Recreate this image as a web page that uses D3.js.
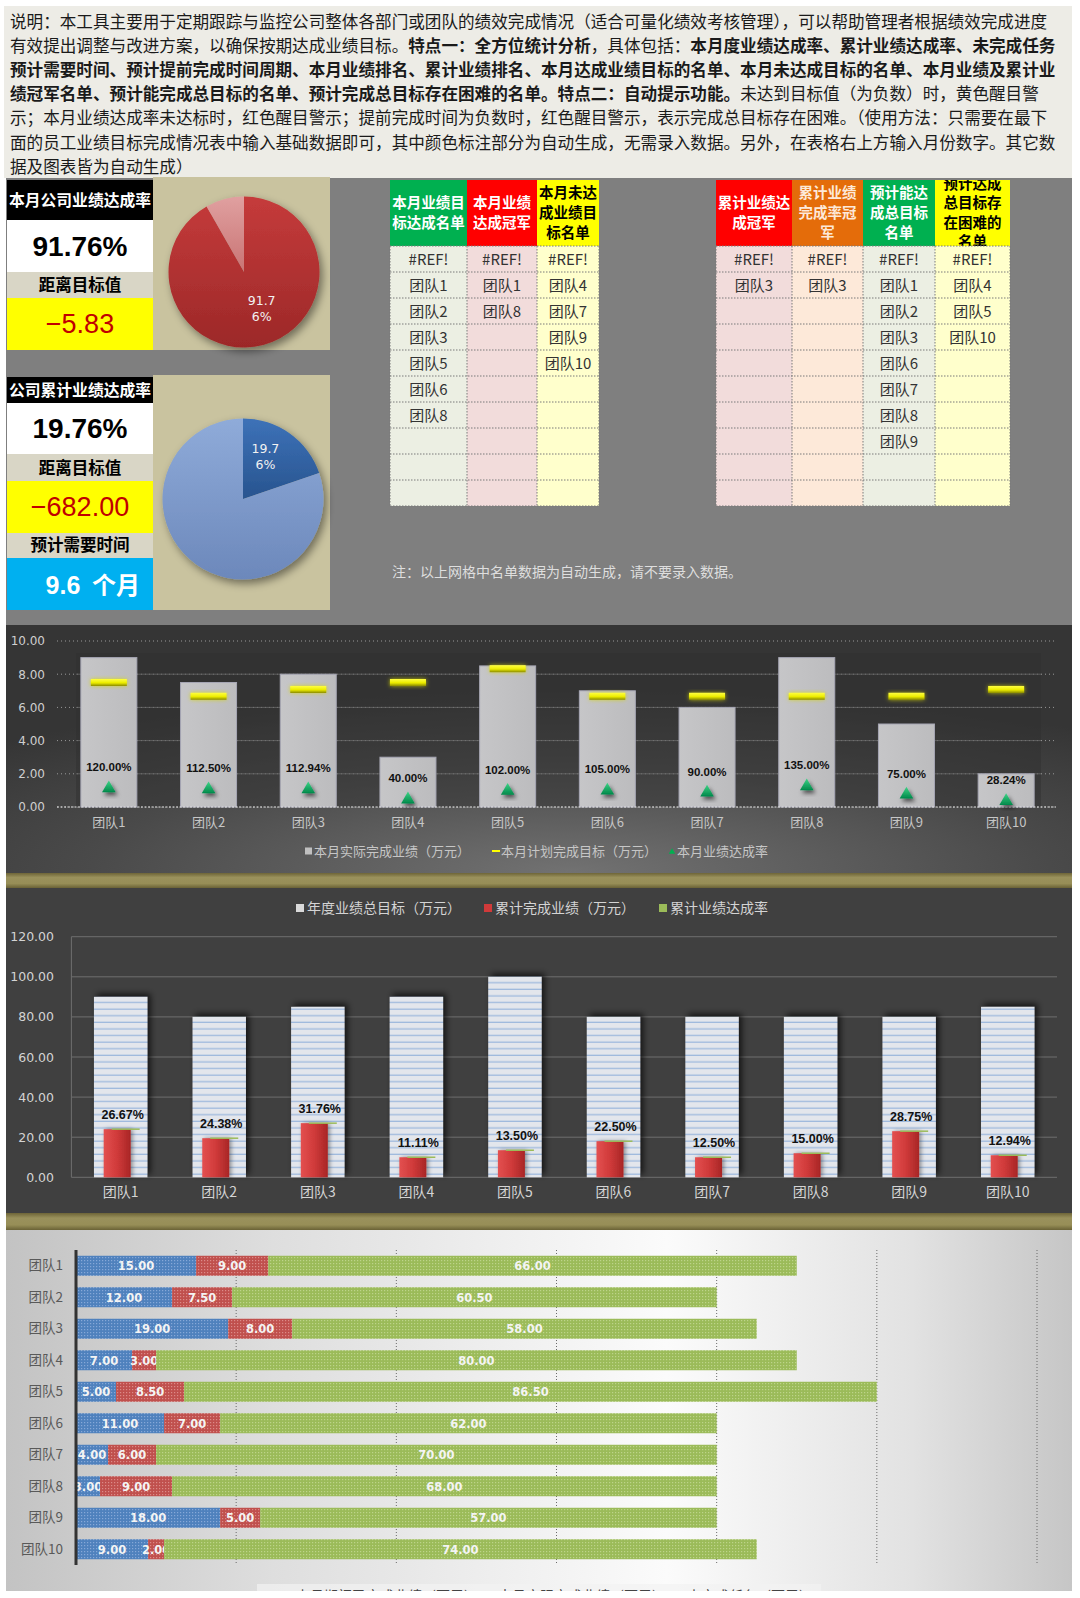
<!DOCTYPE html>
<html><head><meta charset="utf-8">
<script src="https://cdn.jsdelivr.net/npm/d3@7/dist/d3.min.js"></script>
<style>
html,body{margin:0;padding:0;background:#fff;overflow:hidden}
svg{display:block}
text{font-family:"Noto Sans CJK SC","Noto Sans",sans-serif}
</style></head><body>
<svg id="c" width="1080" height="1598" viewBox="0 0 1080 1598"></svg>
<script>
// ===== data =====
const teams = ["团队1","团队2","团队3","团队4","团队5","团队6","团队7","团队8","团队9","团队10"];
const monthActual = [9.0,7.5,8.0,3.0,8.5,7.0,6.0,9.0,5.0,2.0];
const monthTarget = [7.50,6.67,7.08,7.50,8.33,6.67,6.67,6.67,6.67,7.08];
const monthRate = [1.2000,1.1250,1.1294,0.4000,1.0200,1.0500,0.9000,1.3500,0.7500,0.2824];
const annualTarget = [90,80,85,90,100,80,80,80,80,85];
const cumDone = [24,19.5,27,10,13.5,18,10,12,23,11];
const cumRate = [0.2667,0.2438,0.3176,0.1111,0.1350,0.2250,0.1250,0.1500,0.2875,0.1294];
const prevDone = [15,12,19,7,5,11,4,3,18,9];
const thisMonthDone = [9,7.5,8,3,8.5,7,6,9,5,2];
const remaining = [66,60.5,58,80,86.5,62,70,68,57,74];
const ticks1 = [0,2,4,6,8,10];
const ticks2 = [0,20,40,60,80,100,120];
const ticks3 = [20,40,60,80,100,120];
const kpiMonthRate = 0.9176, kpiMonthGap = -5.83;
const kpiCumRate = 0.1976, kpiCumGap = -682.00, kpiMonthsNeeded = 9.6;
const legend1 = ["本月实际完成业绩（万元）","本月计划完成目标（万元）","本月业绩达成率"];
const legend2 = ["年度业绩总目标（万元）","累计完成业绩（万元）","累计业绩达成率"];
const legend3 = ["上月期初已完成业绩（万元）","本月实际完成业绩（万元）","未完成任务（万元）"];
const introLines = [
 [["说明：本工具主要用于定期跟踪与监控公司整体各部门或团队的绩效完成情况（适合可量化绩效考核管理），可以帮助管理者根据绩效完成进度",0]],
 [["有效提出调整与改进方案，以确保按期达成业绩目标。",0],["特点一：全方位统计分析",1],["，具体包括：",0],["本月度业绩达成率、累计业绩达成率、未完成任务",1]],
 [["预计需要时间、预计提前完成时间周期、本月业绩排名、累计业绩排名、本月达成业绩目标的名单、本月未达成目标的名单、本月业绩及累计业",1]],
 [["绩冠军名单、预计能完成总目标的名单、预计完成总目标存在困难的名单。特点二：自动提示功能。",1],["未达到目标值（为负数）时，黄色醒目警",0]],
 [["示；本月业绩达成率未达标时，红色醒目警示；提前完成时间为负数时，红色醒目警示，表示完成总目标存在困难。（使用方法：只需要在最下",0]],
 [["面的员工业绩目标完成情况表中输入基础数据即可，其中颜色标注部分为自动生成，无需录入数据。另外，在表格右上方输入月份数字。其它数",0]],
 [["据及图表皆为自动生成）",0]]
];
const t1Headers = [["本月业绩目","标达成名单"],["本月业绩","达成冠军"],["本月未达","成业绩目","标名单"]];
const t1Cols = [["#REF!","团队1","团队2","团队3","团队5","团队6","团队8"],["#REF!","团队1","团队8"],["#REF!","团队4","团队7","团队9","团队10"]];
const t2Headers = [["累计业绩达","成冠军"],["累计业绩","完成率冠","军"],["预计能达","成总目标","名单"],["预计达成","总目标存","在困难的","名单"]];
const t2Cols = [["#REF!","团队3"],["#REF!","团队3"],["#REF!","团队1","团队2","团队3","团队6","团队7","团队8","团队9"],["#REF!","团队4","团队5","团队10"]];
const noteText = "注：以上网格中名单数据为自动生成，请不要录入数据。";

// ===== setup =====
const svg = d3.select('#c');
const defs = svg.append('defs');
function lg(id, stops, x2, y2){ const g=defs.append('linearGradient').attr('id',id).attr('x1',0).attr('y1',0).attr('x2',x2===undefined?0:x2).attr('y2',y2===undefined?1:y2); stops.forEach(s=>g.append('stop').attr('offset',s[0]).attr('stop-color',s[1])); }
function shadow(id,dx,dy,sd,op,col){ const f=defs.append('filter').attr('id',id).attr('x','-50%').attr('y','-50%').attr('width','200%').attr('height','200%'); f.append('feDropShadow').attr('dx',dx).attr('dy',dy).attr('stdDeviation',sd).attr('flood-color',col||'#000').attr('flood-opacity',op); }
shadow('shPie',3,4,4,0.45);
shadow('shBar2',3,-3,3,0.7);
shadow('shTri',2,3,2,0.6);
shadow('glowY',0,0,2,0.8,'#d8d800');
shadow('shRed',2,0,2,0.4);
lg('gRed',[[0,'#c53b3b'],[1,'#9c2828']]);
lg('gRedL',[[0,'#e0a0a0'],[1,'#c97474']]);
lg('gBlue',[[0,'#3d72b8'],[1,'#28548f']]);
lg('gBlueL',[[0,'#8fabd9'],[1,'#6c88bb']]);
lg('gYel',[[0,'#ffff40'],[0.55,'#ecec00'],[1,'#8a8a00']]);
lg('gTri',[[0,'#3ed486'],[1,'#00884a']]);
lg('gRedBar',[[0,'#e35050'],[0.5,'#d03a3a'],[1,'#a82626']],1,0);
lg('gBar1',[[0,'#c6c6c8'],[1,'#bcbcbe']],1,0);
lg('gOlive',[[0,'#6e6538'],[0.3,'#9a915c'],[0.7,'#978e57'],[1,'#6a6236']]);
lg('gC3',[[0,'#c3c3c3'],[0.25,'#dedede'],[0.62,'#fbfbfb'],[0.85,'#e2e2e2'],[1,'#c6c6c6']],1,0);
const rg = defs.append('radialGradient').attr('id','gC1').attr('cx',0.53).attr('cy',1.0).attr('r',0.75).attr('gradientUnits','objectBoundingBox');
rg.append('stop').attr('offset',0).attr('stop-color','#727272');
rg.append('stop').attr('offset',0.6).attr('stop-color','#4a4a4a');
rg.append('stop').attr('offset',1).attr('stop-color','#353535');
const sp = defs.append('pattern').attr('id','stripe').attr('patternUnits','userSpaceOnUse').attr('width',10).attr('height',6.6);
sp.append('rect').attr('width',10).attr('height',6.6).attr('fill','#e3e6ec');
sp.append('rect').attr('y',5.3).attr('width',10).attr('height',1.3).attr('fill','#9fb9dd');
function dotPat(id, base, dot){ const p=defs.append('pattern').attr('id',id).attr('patternUnits','userSpaceOnUse').attr('width',3).attr('height',3);
 p.append('rect').attr('width',3).attr('height',3).attr('fill',base);
 p.append('rect').attr('width',1.2).attr('height',1.2).attr('fill',dot); }
dotPat('pBlue','#4f81bd','#86a8d8');
dotPat('pRed','#c0504d','#dc8a88');
dotPat('pGreen','#9bbb59','#bdd48a');
defs.append('clipPath').attr('id','clipC3').append('rect').attr('x',6).attr('y',1230).attr('width',1066).attr('height',361);
defs.append('clipPath').attr('id','clipH').append('rect').attr('x',935).attr('y',180).attr('width',75).attr('height',66);

// ===== intro =====
svg.append('rect').attr('x',4).attr('y',6).attr('width',1068).attr('height',172).attr('fill','#edece6');
const intro = svg.append('g');
introLines.forEach((line,i)=>{
  const t = intro.append('text').attr('x',10).attr('y',27.5+i*24.2).attr('font-size',16.6).attr('fill','#1a1a1a');
  line.forEach(seg=>t.append('tspan').attr('font-weight',seg[1]?700:400).text(seg[0]));
});

// ===== KPI section =====
svg.append('rect').attr('x',6).attr('y',178).attr('width',1066).attr('height',447).attr('fill','#7f7f7f');
const L=7, LW=146, CX=L+LW/2;
function box(y,h,fill){ svg.append('rect').attr('x',L).attr('y',y).attr('width',LW).attr('height',h).attr('fill',fill); }
function ctext(x,y,s,size,fill,weight,fam){ return svg.append('text').attr('x',x).attr('y',y).attr('text-anchor','middle').attr('font-size',size).attr('fill',fill).attr('font-weight',weight||400).style('font-family',fam||null).text(s); }
const numFam = '"Liberation Sans",Arial,sans-serif';
svg.append('rect').attr('x',153).attr('y',177).attr('width',177).attr('height',173).attr('fill','#c9c39f');
box(180,40,'#000'); box(220,52,'#fff'); box(272,26,'#d9d6c6'); box(298,52,'#ffff00');
ctext(CX,206,'本月公司业绩达成率',15.8,'#fff',700);
ctext(CX,256,d3.format('.2%')(kpiMonthRate),28,'#000',700,numFam);
ctext(CX,291,'距离目标值',16.5,'#000',700);
ctext(CX,333,d3.format('.2f')(kpiMonthGap),27,'#c00000',400,numFam);
svg.append('rect').attr('x',153).attr('y',375).attr('width',177).attr('height',235).attr('fill','#c9c39f');
box(377,26,'#000'); box(403,51,'#fff'); box(454,27,'#d9d6c6'); box(481,52,'#ffff00'); box(533,25,'#d9d6c6'); box(558,52,'#00b0f0');
ctext(CX,396,'公司累计业绩达成率',15.8,'#fff',700);
ctext(CX,438,d3.format('.2%')(kpiCumRate),28,'#000',700,numFam);
ctext(CX,474,'距离目标值',16.5,'#000',700);
ctext(CX,516,d3.format('.2f')(kpiCumGap),27,'#c00000',400,numFam);
ctext(CX,551,'预计需要时间',16.5,'#000',700);
svg.append('text').attr('x',63).attr('y',594).attr('text-anchor','middle').attr('fill','#fff').attr('font-weight',700).style('font-family',numFam).attr('font-size',25).text(d3.format('.1f')(kpiMonthsNeeded));
svg.append('text').attr('x',116).attr('y',594).attr('text-anchor','middle').attr('fill','#fff').attr('font-weight',700).attr('font-size',24).text('个月');

function drawPie(cx,cy,r,val,fills,labelOff){
  const g = svg.append('g').attr('transform',`translate(${cx},${cy})`).attr('filter','url(#shPie)');
  const arcs = d3.pie().sort(null)([val,1-val]);
  const arc = d3.arc().innerRadius(0).outerRadius(r);
  g.selectAll('path').data(arcs).enter().append('path').attr('d',arc).attr('fill',(d,i)=>fills[i]);
  const c = arc.centroid(arcs[0]);
  const s = d3.format('.2%')(val);
  const lt = svg.append('text').attr('x',cx+c[0]+labelOff[0]).attr('y',cy+c[1]+labelOff[1]).attr('text-anchor','middle').attr('font-size',12.5).attr('fill','#f2f2f2').style('font-family','"DejaVu Sans",sans-serif');
  lt.append('tspan').attr('x',cx+c[0]+labelOff[0]).attr('dy',0).text(s.slice(0,4));
  lt.append('tspan').attr('x',cx+c[0]+labelOff[0]).attr('dy',16).text(s.slice(4));
}
drawPie(244,272,75.5,kpiMonthRate,['url(#gRed)','url(#gRedL)'],[8,-3]);
drawPie(243,499,80.5,kpiCumRate,['url(#gBlue)','url(#gBlueL)'],[-1,-13]);

// ===== tables =====
function drawTable(xs, headers, cols, styles, clipLast){
  const hy=180, hh=66, ry=246, rh=26, nRows=10;
  headers.forEach((h,i)=>{
    const x0=xs[i], w=xs[i+1]-xs[i], st=styles[i];
    svg.append('rect').attr('x',x0).attr('y',hy).attr('width',w).attr('height',hh).attr('fill',st.head);
    const g = svg.append('g');
    if(clipLast && i===headers.length-1) g.attr('clip-path','url(#clipH)');
    const n=h.length, mid=hy+hh/2, ls = n>3?19.5:20;
    h.forEach((line,k)=>{
      g.append('text').attr('x',x0+w/2).attr('y',mid+(k-(n-1)/2)*ls+5).attr('text-anchor','middle').attr('font-size',14.5).attr('font-weight',700).attr('fill',st.ht).text(line);
    });
    svg.append('rect').attr('x',x0).attr('y',ry).attr('width',w).attr('height',rh*nRows).attr('fill',st.body);
    for(let r=0;r<nRows;r++){
      const v = cols[i][r];
      if(v) svg.append('text').attr('x',x0+w/2).attr('y',ry+r*rh+rh/2+5.5).attr('text-anchor','middle').attr('font-size',15).attr('fill','#333').text(v);
    }
  });
  const x0=xs[0], x1=xs[xs.length-1];
  const bl = svg.append('g').attr('stroke','#7a7a7a').attr('stroke-width',1).attr('stroke-dasharray','1.5,1.5').attr('fill','none');
  for(let r=0;r<=10;r++) bl.append('line').attr('x1',x0).attr('x2',x1).attr('y1',ry+r*rh).attr('y2',ry+r*rh);
  xs.forEach(x=>bl.append('line').attr('x1',x).attr('x2',x).attr('y1',ry).attr('y2',ry+rh*10));
}
drawTable([390,467,537,599],t1Headers,t1Cols,[
  {head:'#00b050',ht:'#fff',body:'#ecefe3'},{head:'#ff0000',ht:'#fff',body:'#f2dcdb'},{head:'#ffff00',ht:'#000',body:'#ffffcc'}],false);
drawTable([716,792,863,935,1010],t2Headers,t2Cols,[
  {head:'#ff0000',ht:'#fff',body:'#f2dcdb'},{head:'#e46c0a',ht:'#fde9d9',body:'#fde9d9'},{head:'#00b050',ht:'#fff',body:'#ecefe3'},{head:'#ffff00',ht:'#000',body:'#ffffcc'}],true);
svg.append('text').attr('x',392).attr('y',577).attr('font-size',14).attr('fill','#dedede').text(noteText);

// ===== chart 1 =====
svg.append('rect').attr('x',6).attr('y',625).attr('width',1066).attr('height',248).attr('fill','url(#gC1)');
svg.append('rect').attr('x',6).attr('y',873).attr('width',1066).attr('height',15).attr('fill','url(#gOlive)');
const c1 = svg.append('g');
const x1 = d3.scaleBand().domain(teams).range([59,1056]).padding(0);
const y1 = d3.scaleLinear().domain([0,10]).range([807,641]);
const yR = d3.scaleLinear().domain([0,12]).range([807,641]);
const bw1 = x1.bandwidth();
c1.selectAll('.g1').data(ticks1).enter().append('line').attr('x1',57).attr('x2',1056).attr('y1',d=>y1(d)).attr('y2',d=>y1(d)).attr('stroke','#9a9a9a').attr('stroke-dasharray','1,3');
c1.append('rect').attr('x',76).attr('y',653).attr('width',965).attr('height',154).attr('fill','#2e2e2e').attr('opacity',0.45);
c1.selectAll('.g1b').data(ticks1.filter(d=>d>0&&d<10)).enter().append('line').attr('x1',76).attr('x2',1041).attr('y1',d=>y1(d)).attr('y2',d=>y1(d)).attr('stroke','#7a7a7a').attr('stroke-width',1).attr('opacity',0.6);
const ax1 = c1.append('g').attr('transform','translate(45,0)').call(d3.axisLeft(y1).tickValues(ticks1).tickSize(0).tickPadding(0).tickFormat(d3.format('.2f')));
ax1.select('.domain').remove();
ax1.selectAll('text').attr('font-size',12).attr('fill','#cfcfcf').style('font-family','"DejaVu Sans",sans-serif');
c1.selectAll('.b1').data(teams).enter().append('rect').attr('x',d=>x1(d)+bw1/2-28).attr('y',(d,i)=>y1(monthActual[i])).attr('width',56).attr('height',(d,i)=>807-y1(monthActual[i])).attr('fill','url(#gBar1)').attr('stroke','#a6a6b4').attr('stroke-width',1);
c1.append('line').attr('x1',57).attr('x2',1056).attr('y1',807).attr('y2',807).attr('stroke','#e8e8e8').attr('stroke-dasharray','2,1.5');
c1.selectAll('.t1').data(teams).enter().append('rect').attr('x',d=>x1(d)+bw1/2-18).attr('y',(d,i)=>y1(monthTarget[i])-3.5).attr('width',36).attr('height',7).attr('fill','url(#gYel)').attr('filter','url(#glowY)');
c1.selectAll('.tr').data(teams).enter().append('path').attr('d',d3.symbol().type(d3.symbolTriangle).size(80)).attr('transform',(d,i)=>`translate(${x1(d)+bw1/2},${yR(monthRate[i])-2})`).attr('fill','url(#gTri)').attr('filter','url(#shTri)');
c1.selectAll('.rl').data(teams).enter().append('text').attr('x',d=>x1(d)+bw1/2).attr('y',(d,i)=>yR(monthRate[i])-19).attr('text-anchor','middle').attr('font-size',11.5).attr('font-weight',700).attr('fill','#111').style('font-family',numFam).text((d,i)=>d3.format('.2%')(monthRate[i]));
const xa1 = c1.append('g').attr('transform','translate(0,807)').call(d3.axisBottom(x1).tickSize(0).tickPadding(11));
xa1.select('.domain').remove();
xa1.selectAll('text').attr('font-size',13).attr('fill','#c6c6c6');
const lx1 = [305,492,668];
lx1.forEach((x,i)=>{
  const g=c1.append('g').attr('transform',`translate(${x},851)`);
  if(i===0) g.append('rect').attr('x',0).attr('y',-3.5).attr('width',7).attr('height',7).attr('fill','#c0c0c0');
  if(i===1) g.append('rect').attr('x',0).attr('y',-1).attr('width',8).attr('height',2).attr('fill','#ffff00');
  if(i===2) g.append('path').attr('d',d3.symbol().type(d3.symbolTriangle).size(18)).attr('transform','translate(4,1)').attr('fill','#00b050');
  g.append('text').attr('x',9).attr('y',5).attr('font-size',13).attr('fill','#c6c6c6').text(legend1[i]);
});

// ===== chart 2 =====
svg.append('rect').attr('x',6).attr('y',888).attr('width',1066).attr('height',325).attr('fill','#404040');
svg.append('rect').attr('x',6).attr('y',1213).attr('width',1066).attr('height',17).attr('fill','url(#gOlive)');
const c2 = svg.append('g');
const x2 = d3.scaleBand().domain(teams).range([71.4,1057]).padding(0);
const y2 = d3.scaleLinear().domain([0,120]).range([1177.3,936.7]);
const bw2 = x2.bandwidth();
c2.selectAll('.g2').data(ticks2).enter().append('line').attr('x1',71.4).attr('x2',1057).attr('y1',d=>y2(d)).attr('y2',d=>y2(d)).attr('stroke','#6e6e6e');
c2.append('line').attr('x1',71.4).attr('x2',71.4).attr('y1',936.7).attr('y2',1177.3).attr('stroke','#6e6e6e');
const ax2 = c2.append('g').attr('transform','translate(54,0)').call(d3.axisLeft(y2).tickValues(ticks2).tickSize(0).tickPadding(0).tickFormat(d3.format('.2f')));
ax2.select('.domain').remove();
ax2.selectAll('text').attr('font-size',12.5).attr('fill','#d4d4d4').style('font-family','"DejaVu Sans",sans-serif');
c2.selectAll('.b2').data(teams).enter().append('rect').attr('x',d=>x2(d)+bw2/2-26.7).attr('y',(d,i)=>y2(annualTarget[i])).attr('width',53.4).attr('height',(d,i)=>1177.3-y2(annualTarget[i])).attr('fill','url(#stripe)').attr('filter','url(#shBar2)');
c2.selectAll('.r2').data(teams).enter().append('rect').attr('x',d=>x2(d)+bw2/2-17).attr('y',(d,i)=>y2(cumDone[i])).attr('width',27).attr('height',(d,i)=>1177.3-y2(cumDone[i])).attr('fill','url(#gRedBar)').attr('filter','url(#shRed)');
c2.selectAll('.gl2').data(teams).enter().append('line').attr('x1',d=>x2(d)+bw2/2-9).attr('x2',d=>x2(d)+bw2/2+19).attr('y1',(d,i)=>y2(cumDone[i])).attr('y2',(d,i)=>y2(cumDone[i])).attr('stroke','#9bbb59').attr('stroke-width',1.5);
c2.selectAll('.rl2').data(teams).enter().append('text').attr('x',d=>x2(d)+bw2/2+2).attr('y',(d,i)=>y2(cumDone[i])-10.5).attr('text-anchor','middle').attr('font-size',12.5).attr('font-weight',700).attr('fill','#111').style('font-family',numFam).text((d,i)=>d3.format('.2%')(cumRate[i]));
const xa2 = c2.append('g').attr('transform','translate(0,1177.3)').call(d3.axisBottom(x2).tickSize(0).tickPadding(10));
xa2.select('.domain').remove();
xa2.selectAll('text').attr('font-size',14).attr('fill','#d4d4d4');
const lx2 = [296,484,659];
const lc2 = ['#d9d9d9','#d03a3a','#9bbb59'];
lx2.forEach((x,i)=>{
  const g=c2.append('g').attr('transform',`translate(${x},908)`);
  g.append('rect').attr('x',0).attr('y',-4).attr('width',8).attr('height',8).attr('fill',lc2[i]);
  g.append('text').attr('x',11).attr('y',5).attr('font-size',14).attr('fill','#d4d4d4').text(legend2[i]);
});

// ===== chart 3 =====
const c3 = svg.append('g').attr('clip-path','url(#clipC3)');
c3.append('rect').attr('x',6).attr('y',1230).attr('width',1066).attr('height',361).attr('fill','url(#gC3)');
const x3 = d3.scaleLinear().domain([0,120]).range([76,1037]);
const y3 = d3.scaleBand().domain(teams).range([1250,1565]).padding(0);
const bh3 = 20, st3 = y3.bandwidth();
c3.selectAll('.g3').data(ticks3).enter().append('line').attr('x1',d=>x3(d)).attr('x2',d=>x3(d)).attr('y1',1250).attr('y2',1565).attr('stroke','#6a6a6a').attr('stroke-dasharray','1,2');
const segs = [prevDone, thisMonthDone, remaining];
const segFill = ['url(#pBlue)','url(#pRed)','url(#pGreen)'];
const stacked = d3.stack().keys([0,1,2]).value((d,k)=>segs[k][d])(d3.range(teams.length));
stacked.forEach((layer,k)=>{
  c3.selectAll('.s'+k).data(layer).enter().append('rect').attr('x',d=>x3(d[0])).attr('y',d=>y3(teams[d.data])+st3/2-bh3/2).attr('width',d=>x3(d[1])-x3(d[0])).attr('height',bh3).attr('fill',segFill[k]);
  c3.selectAll('.l'+k).data(layer).enter().append('text').attr('x',d=>(x3(d[0])+x3(d[1]))/2).attr('y',d=>y3(teams[d.data])+st3/2+4.5).attr('text-anchor','middle').attr('font-size',11.5).attr('font-weight',700).attr('fill','#f4f4f4').style('font-family','"DejaVu Sans",sans-serif').text(d=>d3.format('.2f')(d[1]-d[0]));
});
c3.append('line').attr('x1',76).attr('x2',76).attr('y1',1250).attr('y2',1565).attr('stroke','#333').attr('stroke-width',3);
const ya3 = c3.append('g').attr('transform','translate(76,0)').call(d3.axisLeft(y3).tickSize(0).tickPadding(13));
ya3.select('.domain').remove();
ya3.selectAll('text').attr('font-size',13.5).attr('fill','#595959');
c3.append('rect').attr('x',257).attr('y',1584).attr('width',564).attr('height',20).attr('fill','#f2f2f2').attr('opacity',0.7);
const lx3 = [296,498,687];
lx3.forEach((x,i)=>{
  c3.append('text').attr('x',x).attr('y',1601).attr('font-size',14).attr('fill','#444').text(legend3[i]);
});
</script></body></html>
